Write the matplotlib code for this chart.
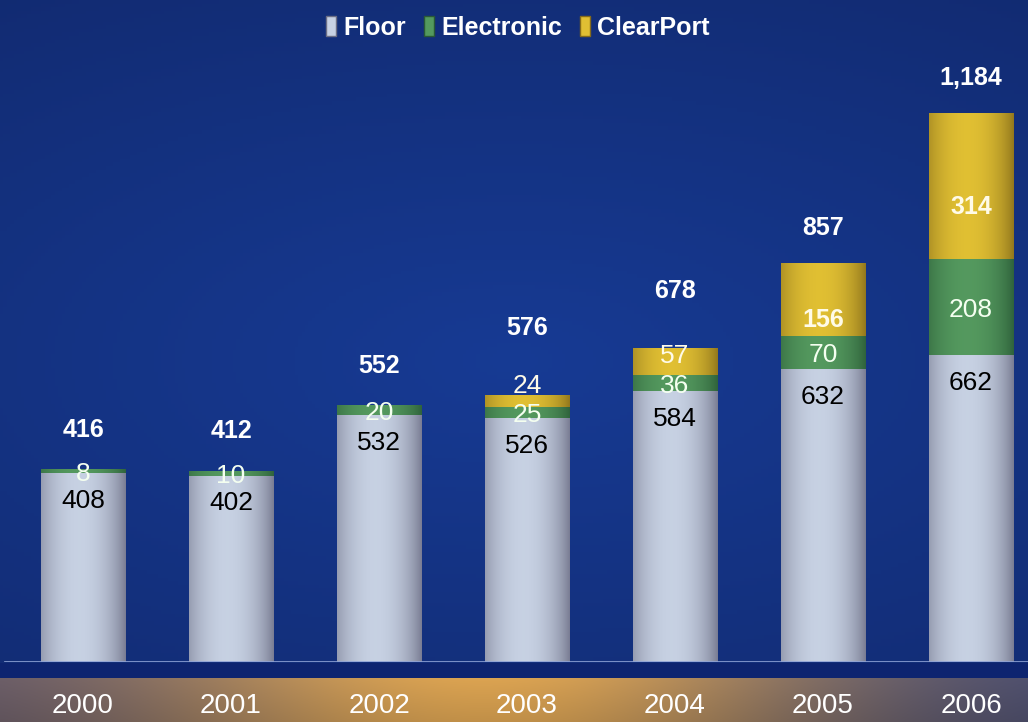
import numpy as np
import matplotlib.pyplot as plt
from matplotlib.patches import Patch

years = ['2000', '2001', '2002', '2003', '2004', '2005', '2006']
floor = [408, 402, 532, 526, 584, 632, 662]
electronic = [8, 10, 20, 25, 36, 70, 208]
clearport = [0, 0, 0, 24, 57, 156, 314]
totals = [416, 412, 552, 576, 678, 857, 1184]

# label nudges (points)
cp_dy = [0, 0, 0, 11, 4, -14, -15]
tot_dy = [28, 29, 29, 48, 41, 26, 25]

plt.rcParams['font.family'] = ['Liberation Sans', 'DejaVu Sans']

W, H = 1028, 722
fig = plt.figure(figsize=(W / 100, H / 100), dpi=100)

# blue background, lighter in the middle
bg = fig.add_axes([0, 0, 1, 1], zorder=0)
yy, xx = np.mgrid[0:1:200j, 0:1:300j]
d = np.sqrt(((xx - 0.5) / 0.9) ** 2 + ((yy - 0.5) / 0.6) ** 2)
d = np.clip(d, 0, 1)[..., None]
c_mid = np.array([0.09, 0.23, 0.58])
c_edge = np.array([0.07, 0.17, 0.45])
bg.imshow(c_mid * (1 - d) + c_edge * d, aspect='auto', extent=[0, 1, 0, 1])
bg.set_xlim(0, 1)
bg.set_ylim(0, 1)
bg.axis('off')

# navy strip and gold band under the baseline
strip = fig.add_axes([0, 44 / H, 1, 15 / H], zorder=1)
strip.axis('off')
strip.add_patch(plt.Rectangle((0, 0), 1, 1, color='#0d2470', transform=strip.transAxes))

band = fig.add_axes([0, 0, 1, 44 / H], zorder=1)
t = np.linspace(0, 1, 400)
gold = np.array([0.86, 0.64, 0.32])
side_l = np.array([0.36, 0.33, 0.42])
side_r = np.array([0.27, 0.29, 0.44])
w = np.exp(-((t - 0.47) / 0.33) ** 2)[:, None]
side = side_l * (1 - t[:, None]) + side_r * t[:, None]
row = gold * w + side * (1 - w)
vert = np.linspace(1.0, 0.88, 40)[:, None, None]
band.imshow(row[None, :, :] * vert, aspect='auto', extent=[0, 1, 0, 1])
band.set_xlim(0, 1)
band.set_ylim(0, 1)
band.axis('off')

ax = fig.add_axes([0, 60 / H, 1, 1 - 60 / H], zorder=2)
ax.patch.set_alpha(0)

x = np.arange(len(years))
bw = 0.57

shades = {
    'Floor': ((0.42, 0.43, 0.52), (0.78, 0.82, 0.89)),
    'Electronic': ((0.16, 0.35, 0.21), (0.33, 0.60, 0.37)),
    'ClearPort': ((0.52, 0.42, 0.10), (0.88, 0.75, 0.20)),
}


def cylinder(name):
    dark, light = np.array(shades[name][0]), np.array(shades[name][1])
    s = np.linspace(0, 1, 100)
    f = 1 - ((s - 0.45) / 0.58) ** 2
    f = np.clip(f, 0, 1)[:, None] ** 0.8
    return (dark * (1 - f) + light * f)[None, :, :]


def draw_seg(xi, bottom, h, name):
    if h <= 0:
        return
    ax.imshow(cylinder(name), aspect='auto', zorder=3,
              extent=[xi - bw / 2, xi + bw / 2, bottom, bottom + h])


for i in range(len(years)):
    draw_seg(x[i], 0, floor[i], 'Floor')
    draw_seg(x[i], floor[i], electronic[i], 'Electronic')
    draw_seg(x[i], floor[i] + electronic[i], clearport[i], 'ClearPort')

    ax.annotate(str(floor[i]), (x[i], floor[i]), xytext=(0, -20), textcoords='offset points',
                ha='center', va='center', fontsize=19, color='black', zorder=5)
    ax.annotate(str(electronic[i]), (x[i], floor[i] + electronic[i] / 2), xytext=(0, -2),
                textcoords='offset points', ha='center', va='center', fontsize=19,
                color='#f4fff0', zorder=5)
    if clearport[i] > 0:
        big = clearport[i] > 100
        ax.annotate(str(clearport[i]), (x[i], floor[i] + electronic[i] + clearport[i] / 2),
                    xytext=(0, cp_dy[i]), textcoords='offset points', ha='center', va='center',
                    fontsize=18 if big else 19, fontweight='bold' if big else 'normal',
                    color='#fffbe8', zorder=5)
    ax.annotate(f'{totals[i]:,}', (x[i], totals[i]), xytext=(0, tot_dy[i]),
                textcoords='offset points', ha='center', va='center', fontsize=18,
                fontweight='bold', color='white', zorder=5)

ax.axhline(0, xmin=0.005, xmax=1, color='#8ea2d6', lw=1.2, zorder=4)

ax.set_xlim(-83 / 148, (W - 83) / 148)
ax.set_ylim(0, 662 / 0.4637)
ax.set_xticks(x, years)
ax.tick_params(axis='x', length=0, pad=22, labelsize=20, labelcolor='white')
ax.set_yticks([])
for sp in ax.spines.values():
    sp.set_visible(False)

handles = [Patch(facecolor=tuple(shades[n][1]), edgecolor=tuple(shades[n][0]), label=n)
           for n in ['Floor', 'Electronic', 'ClearPort']]
leg = fig.legend(handles=handles, loc='center', bbox_to_anchor=(518 / W, 1 - 28 / H), ncol=3,
                 frameon=False, handlelength=0.4, handleheight=0.85, handletextpad=0.3,
                 columnspacing=0.7, prop={'weight': 'bold', 'size': 18})
for txt in leg.get_texts():
    txt.set_color('white')

fig.savefig('out.png', dpi=100)
